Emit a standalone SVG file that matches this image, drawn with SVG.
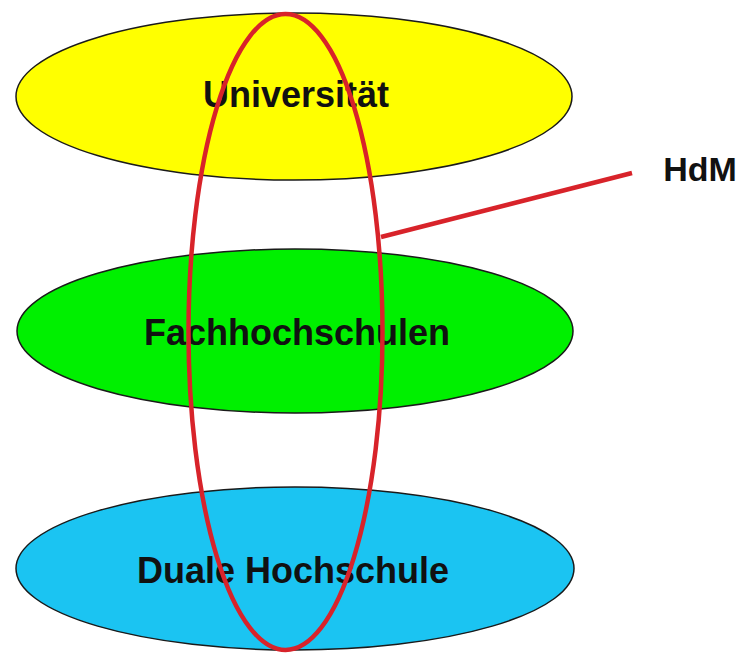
<svg xmlns="http://www.w3.org/2000/svg" width="741" height="654" viewBox="0 0 741 654">
<style>
.node{stroke:#1a1a1a;stroke-width:1.5}
.lbl{font-family:"Liberation Sans",Arial,sans-serif;font-size:36px;font-weight:bold;fill:#111;text-anchor:middle}
.red{fill:none;stroke:#d8232a;stroke-width:4.5}
</style>
<rect width="741" height="654" fill="#ffffff"/>
<g id="universitaet">
<ellipse class="node" cx="294" cy="96.5" rx="278" ry="83.5" fill="#ffff00"/>
<text class="lbl" x="296" y="107">Universität</text>
</g>
<g id="fachhochschulen">
<ellipse class="node" cx="295" cy="331" rx="278" ry="82" fill="#00f000"/>
<text class="lbl" x="297" y="345">Fachhochschulen</text>
</g>
<g id="duale-hochschule">
<ellipse class="node" cx="295" cy="568.5" rx="279" ry="81.5" fill="#1bc4f2"/>
<text class="lbl" x="293" y="583">Duale Hochschule</text>
</g>
<g id="hdm">
<ellipse class="red" cx="285.5" cy="332" rx="97" ry="318"/>
<text x="700" y="181" style="font-family:'Liberation Sans',Arial,sans-serif;font-size:34px;font-weight:bold;fill:#111;text-anchor:middle">HdM</text>
</g>
<g id="connectors">
<line class="red" x1="381" y1="237" x2="632" y2="173"/>
</g>
</svg>
